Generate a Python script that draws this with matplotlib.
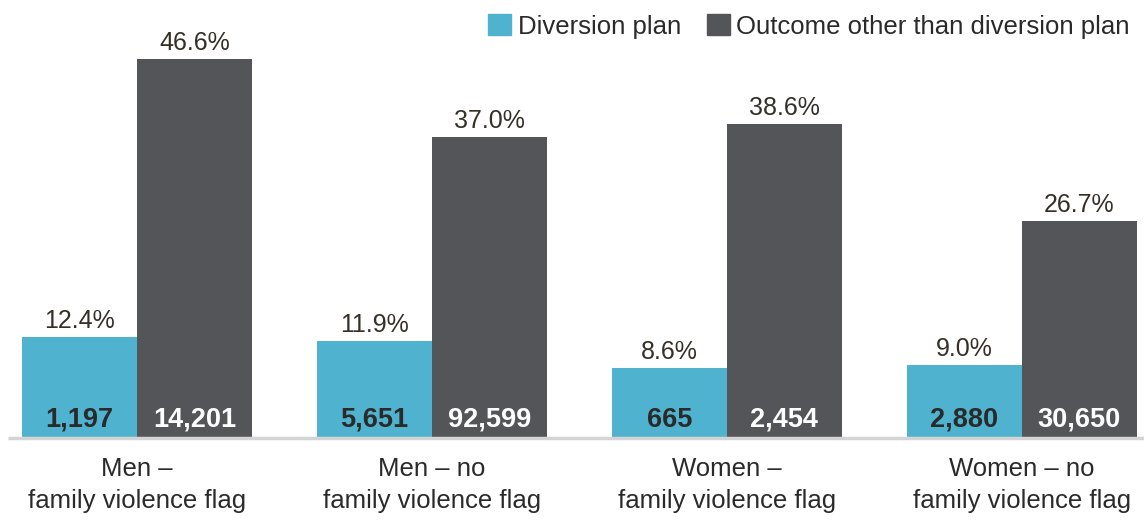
import matplotlib
matplotlib.use("Agg")
import matplotlib.pyplot as plt
from matplotlib.patches import Patch

categories = ["Men –\nfamily violence flag", "Men – no\nfamily violence flag",
              "Women –\nfamily violence flag", "Women – no\nfamily violence flag"]
pct_diversion = [12.4, 11.9, 8.6, 9.0]
pct_other = [46.6, 37.0, 38.6, 26.7]
count_diversion = [1197, 5651, 665, 2880]
count_other = [14201, 92599, 2454, 30650]
series_names = ["Diversion plan", "Outcome other than diversion plan"]

BLUE = "#4fb3cf"
DARK = "#545559"
TEXT = "#2a2a2a"
PCT_TEXT = "#352f28"

plt.rcParams["font.family"] = ["Liberation Sans", "DejaVu Sans"]

fig = plt.figure(figsize=(11.44, 5.2), dpi=100)
ax = fig.add_axes([0, 82 / 520, 1, 438 / 520])

w = 0.39
x = list(range(len(categories)))
xd = [i - w / 2 for i in x]
xo = [i + w / 2 for i in x]

ax.bar(xd, pct_diversion, width=w, color=BLUE, linewidth=0)
ax.bar(xo, pct_other, width=w, color=DARK, linewidth=0)

ax.set_xlim(-0.464, 3.414)
ax.set_ylim(0, 53.87)
ax.axis("off")

# baseline
ax.plot([-0.437, 3.414], [0, 0], color="#d4d4d4", lw=2.5, clip_on=False,
        solid_capstyle="butt")

for xi, p, c in zip(xd, pct_diversion, count_diversion):
    ax.text(xi, p + 0.5, f"{p:.1f}%", ha="center", va="bottom",
            fontsize=18, color=PCT_TEXT)
    ax.text(xi, 2.25, f"{c:,}", ha="center", va="center", fontsize=19.5,
            fontweight="bold", color=TEXT)
for xi, p, c in zip(xo, pct_other, count_other):
    ax.text(xi, p + 0.5, f"{p:.1f}%", ha="center", va="bottom",
            fontsize=18, color=PCT_TEXT)
    ax.text(xi, 2.25, f"{c:,}", ha="center", va="center", fontsize=19.5,
            fontweight="bold", color="white")

for xi, lab in zip(x, categories):
    ax.text(xi, -2.3, lab, ha="center", va="top", fontsize=18.5,
            color=TEXT, linespacing=1.42)

handles = [Patch(color=BLUE), Patch(color=DARK)]
fig.legend(handles, series_names, loc="upper right", bbox_to_anchor=(1.0, 1.0),
           ncol=2, frameon=False, fontsize=18.5, handlelength=0.9,
           handleheight=0.9, handletextpad=0.25, columnspacing=1.0,
           borderaxespad=0.15, labelcolor=TEXT)

fig.savefig("out.png", dpi=100)
